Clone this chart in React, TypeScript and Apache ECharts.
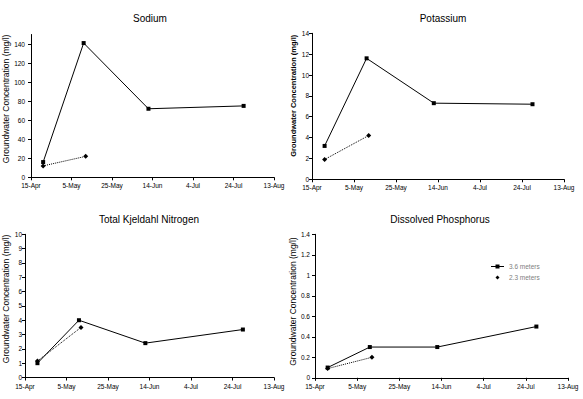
import React, { useEffect, useRef } from "react";
import * as echarts from "echarts";

// ---- data ----
const startDate = "2003-04-15";
const xTickLabels = ["15-Apr", "5-May", "25-May", "14-Jun", "4-Jul", "24-Jul", "13-Aug"];
const dates36 = ["2003-04-21", "2003-05-11", "2003-06-12", "2003-07-29"];
const dates23 = ["2003-04-21", "2003-05-12"];

const titles = ["Sodium", "Potassium", "Total Kjeldahl Nitrogen", "Dissolved Phosphorus"];

const sodium36 = [16, 141, 72, 75];
const sodium23 = [12, 22];
const potassium36 = [3.2, 11.6, 7.3, 7.2];
const potassium23 = [1.9, 4.2];
const tkn36 = [1.0, 4.0, 2.4, 3.35];
const tkn23 = [1.15, 3.5];
const phos36 = [0.1, 0.3, 0.3, 0.5];
const phos23 = [0.09, 0.2];

const sodiumTicks = [0, 20, 40, 60, 80, 100, 120, 140];
const potassiumTicks = [0, 2, 4, 6, 8, 10, 12, 14];
const tknTicks = [0, 1, 2, 3, 4, 5, 6, 7, 8, 9, 10];
const phosTicks = [0, 0.2, 0.4, 0.6, 0.8, 1, 1.2, 1.4];

const yMax = [150, 14, 10, 1.4];
const yInterval = [20, 2, 1, 0.2];

const seriesNames = ["3.6 meters", "2.3 meters"];
const yName = "Groundwater Concentration (mg/l)";

function dayOffset(d: string): number {
  const a = Date.parse(startDate + "T00:00:00Z");
  const b = Date.parse(d + "T00:00:00Z");
  return Math.round((b - a) / 86400000);
}

const FONT = "'Liberation Sans Narrow', 'Liberation Sans', Arial, sans-serif";
const FONT2 = "'Liberation Sans', Arial, sans-serif";

export default function App() {
  const ref = useRef<HTMLDivElement>(null);
  useEffect(() => {
    if (!ref.current) return;
    const chart = echarts.init(ref.current, null, { renderer: "svg" });

    const grids = [
      { left: 31, top: 34.5, width: 243, height: 142.8 },
      { left: 312, top: 33.3, width: 252, height: 146 },
      { left: 25, top: 234.3, width: 249, height: 143.2 },
      { left: 315, top: 234.3, width: 253, height: 143.5 },
    ];
    const titlePos = [
      { x: 145, y: 8 },
      { x: 438, y: 8 },
      { x: 144, y: 209 },
      { x: 435, y: 209 },
    ];
    const ticks = [sodiumTicks, potassiumTicks, tknTicks, phosTicks];
    const v36 = [sodium36, potassium36, tkn36, phos36];
    const v23 = [sodium23, potassium23, tkn23, phos23];
    const nameGaps = [19, 13, 13, 14];
    const namePad = [14, 21, 14, 9];
    const nameSize = [8.5, 7.5, 8.5, 8.5];
    const nameWeight = ["normal", "bold", "normal", "normal"];
    const labelMargin = [6, 3, 3, 5];

    const xTickValues = xTickLabels.map((_, i) => i * 20);

    const option: any = {
      animation: false,
      backgroundColor: "#ffffff",
      title: titles.map((t, i) => ({
        text: t,
        left: titlePos[i].x,
        top: titlePos[i].y,
        textAlign: "center",
        textStyle: { fontSize: 10, fontWeight: "normal", color: "#000", fontFamily: FONT2 },
      })),
      legend: {
        orient: "vertical",
        left: 485,
        top: 258,
        itemWidth: 13,
        itemHeight: 5,
        itemGap: 4,
        selectedMode: false,
        textStyle: { fontSize: 6.5, color: "#808080", fontFamily: FONT },
        data: [
          { name: seriesNames[0], lineStyle: { width: 1 } },
          { name: seriesNames[1], lineStyle: { opacity: 0 } },
        ],
      },
      grid: grids.map((g) => ({ ...g, containLabel: false, outerBoundsMode: "none" })),
      xAxis: grids.map((_, i) => ({
        type: "value",
        gridIndex: i,
        min: 0,
        max: 120,
        interval: 20,
        axisLine: { show: true, lineStyle: { color: "#000", width: 1 } },
        axisTick: { show: true, length: 3, lineStyle: { color: "#000" }, customValues: xTickValues },
        axisLabel: {
          fontSize: 6.5,
          color: "#000",
          fontFamily: FONT,
          margin: 5,
          customValues: xTickValues,
          formatter: (v: number) => xTickLabels[Math.round(v / 20)] ?? "",
        },
        splitLine: { show: false },
      })),
      yAxis: grids.map((_, i) => ({
        type: "value",
        gridIndex: i,
        min: 0,
        max: yMax[i],
        interval: yInterval[i],
        name: yName,
        nameLocation: "middle",
        nameGap: nameGaps[i],
        nameTextStyle: {
          fontSize: nameSize[i],
          fontWeight: nameWeight[i],
          color: "#000",
          fontFamily: FONT2,
          padding: [0, 0, 0, namePad[i]],
        },
        axisLine: { show: true, lineStyle: { color: "#000", width: 1 } },
        axisTick: { show: true, length: 3, lineStyle: { color: "#000" }, customValues: ticks[i] },
        axisLabel: {
          fontSize: 6.5,
          color: "#000",
          fontFamily: FONT,
          margin: labelMargin[i],
          customValues: ticks[i],
        },
        splitLine: { show: false },
      })),
      series: [] as any[],
    };

    for (let i = 0; i < 4; i++) {
      option.series.push({
        name: seriesNames[0],
        type: "line",
        xAxisIndex: i,
        yAxisIndex: i,
        data: dates36.map((d, k) => [dayOffset(d), v36[i][k]]),
        symbol: "rect",
        symbolSize: 4,
        lineStyle: { color: "#000", width: 1 },
        itemStyle: { color: "#000" },
      });
      option.series.push({
        name: seriesNames[1],
        type: "line",
        xAxisIndex: i,
        yAxisIndex: i,
        data: dates23.map((d, k) => [dayOffset(d), v23[i][k]]),
        symbol: "diamond",
        symbolSize: 5,
        lineStyle: { color: "#000", width: 1, type: "dotted" },
        itemStyle: { color: "#000" },
      });
    }

    chart.setOption(option);
    return () => chart.dispose();
  }, []);

  return (
    <div
      ref={ref}
      style={{ position: "fixed", left: 0, top: 0, width: 583, height: 399, background: "#fff" }}
    />
  );
}
